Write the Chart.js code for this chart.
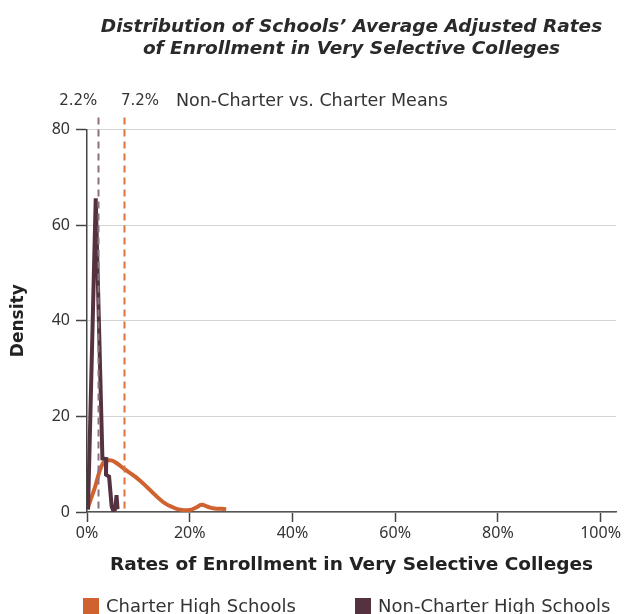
<!DOCTYPE html>
<html>
<head>
<meta charset="utf-8">
<script src="https://cdn.jsdelivr.net/npm/chart.js@4.4.1/dist/chart.umd.min.js"></script>
<style>
  html, body { margin: 0; padding: 0; background: #fff; overflow: hidden; }
  #wrap { width: 624px; height: 614px; position: relative; }
</style>
</head>
<body>
<div id="wrap"><canvas id="chart"></canvas></div>
<script>
// densidades (x en %, y = densidad)
const charterX = [0.2, 1.5, 3.1, 4.4, 5.5, 7.1, 9.5, 11.6, 14.8, 16.7, 18.1, 20, 21.2, 22.3, 23.5, 24.5, 27.1];
const charterY = [1, 5, 10.2, 10.8, 10.4, 9.1, 7.3, 5.3, 2.1, 1.0, 0.5, 0.4, 0.9, 1.5, 1.1, 0.8, 0.6];
const nonCharterX = [0.2, 1.7, 3.0, 3.75, 3.7, 4.3, 4.8, 5.1, 5.5, 5.75, 5.95];
const nonCharterY = [0.5, 65.6, 11.2, 11.1, 7.8, 7.4, 1.2, 0.3, 0.6, 3.5, 0.6];
const seriesNames = ["Charter High Schools", "Non-Charter High Schools"];
const means = [2.2, 7.2];           // non-charter, charter
const meanLabels = ["2.2%", "7.2%"];
const xTicks = [0, 20, 40, 60, 80, 100];
const yTicks = [0, 20, 40, 60, 80];

const ORANGE = "#CF622E";
const PLUM = "#553240";
const FONT = "'Noto Sans', sans-serif";
const WIDE = "'DejaVu Sans', sans-serif";

function toPoints(xs, ys) {
  return xs.map((x, i) => ({ x, y: ys[i] }));
}

// lineas de medias + texto encima del area
const meanLines = {
  id: "meanLines",
  afterDatasetsDraw(chart) {
    const { ctx, chartArea, scales } = chart;
    const cols = ["#8E7080", "#E0733C"];
    ctx.save();
    means.forEach((m, i) => {
      const px = Math.round(scales.x.getPixelForValue(m)) + 0.5;
      ctx.strokeStyle = cols[i];
      ctx.lineWidth = 2;
      ctx.setLineDash([7, 5]);
      ctx.beginPath();
      ctx.moveTo(px, chartArea.top - 12);
      ctx.lineTo(px, chartArea.bottom);
      ctx.stroke();
    });
    ctx.setLineDash([]);
    ctx.fillStyle = "#333";
    ctx.textBaseline = "middle";
    const y = chartArea.top - 28;
    const p0 = scales.x.getPixelForValue(means[0]);
    const p1 = scales.x.getPixelForValue(means[1]);
    ctx.font = "15px " + WIDE;
    ctx.textAlign = "right";
    ctx.fillText(meanLabels[0], p0 - 1, y);
    ctx.textAlign = "left";
    ctx.fillText(meanLabels[1], p1 - 3, y);
    ctx.font = "17.5px " + WIDE;
    ctx.fillText("Non-Charter vs. Charter Means", p1 + 52, y);
    ctx.restore();
  }
};

// leyenda abajo, alineada con el area del grafico
const bottomLegend = {
  id: "bottomLegend",
  afterDraw(chart) {
    const { ctx, chartArea } = chart;
    const offsets = [-4, 268];
    ctx.save();
    ctx.font = "18px " + WIDE;
    ctx.textBaseline = "middle";
    ctx.textAlign = "left";
    chart.data.datasets.forEach((d, i) => {
      const x = chartArea.left + offsets[i];
      ctx.fillStyle = d.borderColor;
      ctx.fillRect(x, 598, 16, 16);
      ctx.fillStyle = "#333";
      ctx.fillText(d.label, x + 23, 607);
    });
    ctx.restore();
  }
};

new Chart(document.getElementById("chart"), {
  type: "line",
  data: {
    datasets: [
      {
        label: seriesNames[0],
        data: toPoints(charterX, charterY),
        borderColor: ORANGE,
        backgroundColor: ORANGE,
        borderWidth: 4,
        tension: 0.4,
        pointRadius: 0,
        order: 2
      },
      {
        label: seriesNames[1],
        data: toPoints(nonCharterX, nonCharterY),
        borderColor: PLUM,
        backgroundColor: PLUM,
        borderWidth: 4,
        tension: 0,
        pointRadius: 0,
        order: 1
      }
    ]
  },
  options: {
    responsive: true,
    maintainAspectRatio: false,
    animation: false,
    layout: { padding: { left: 0, right: 8, top: 0, bottom: 0 } },
    plugins: {
      title: {
        display: true,
        fullSize: false,
        text: ["Distribution of Schools\u2019 Average Adjusted Rates", "of Enrollment in Very Selective Colleges"],
        color: "#2a2a2a",
        font: { family: WIDE, size: 18.5, style: "italic", weight: "bold", lineHeight: 1.2 },
        padding: { top: 16, bottom: 69 }
      },
      legend: { display: false },
      tooltip: { enabled: false }
    },
    scales: {
      x: {
        type: "linear",
        min: 0,
        max: 103,
        afterBuildTicks: (s) => { s.ticks = xTicks.map(v => ({ value: v })); },
        afterFit: (s) => { s.height = 102; },
        grid: { drawOnChartArea: false, tickLength: 10, tickColor: "#444", tickWidth: 1.5 },
        border: { color: "#555", width: 1.5 },
        ticks: {
          color: "#333",
          font: { family: FONT, size: 16 },
          padding: 2,
          maxRotation: 0,
          callback: (v) => v + "%"
        },
        title: {
          display: true,
          text: "Rates of Enrollment in Very Selective Colleges",
          color: "#222",
          font: { family: WIDE, size: 18.5, weight: "bold" },
          padding: { top: 6, bottom: 38 }
        }
      },
      y: {
        min: 0,
        max: 80,
        afterBuildTicks: (s) => { s.ticks = yTicks.map(v => ({ value: v })); },
        afterFit: (s) => { s.width = 87; },
        grid: { color: "#d4d4d4", lineWidth: 1, tickLength: 11, tickColor: "#444", tickWidth: 1.5 },
        border: { color: "#444", width: 1.5 },
        ticks: { color: "#333", font: { family: FONT, size: 16 }, padding: 6 },
        title: {
          display: true,
          text: "Density",
          color: "#222",
          font: { family: WIDE, size: 17, weight: "bold" },
          padding: { top: 8, bottom: 4 }
        }
      }
    }
  },
  plugins: [meanLines, bottomLegend]
});
</script>
</body>
</html>
